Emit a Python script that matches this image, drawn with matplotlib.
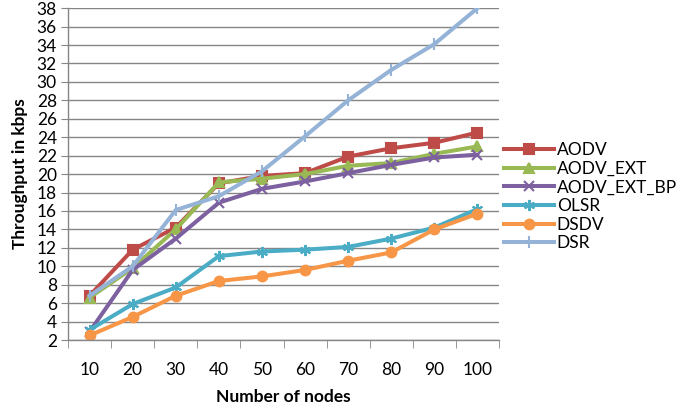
import matplotlib.pyplot as plt
import numpy as np

plt.rcParams['font.family'] = ['Lato', 'DejaVu Sans']

# Data
nodes = ['10', '20', '30', '40', '50', '60', '70', '80', '90', '100']
aodv = [6.8, 11.8, 14.2, 19.0, 19.8, 20.1, 21.9, 22.8, 23.4, 24.5]
aodv_ext = [6.6, 9.8, 14.0, 19.1, 19.5, 20.0, 20.9, 21.2, 22.2, 23.0]
aodv_ext_bp = [2.9, 9.6, 13.0, 16.9, 18.4, 19.2, 20.1, 21.0, 21.8, 22.1]
olsr = [3.1, 5.9, 7.7, 11.1, 11.6, 11.8, 12.1, 13.0, 14.2, 16.2]
dsdv = [2.5, 4.5, 6.8, 8.4, 8.9, 9.6, 10.6, 11.5, 14.0, 15.7]
dsr = [6.8, 10.0, 16.1, 17.6, 20.3, 24.1, 28.0, 31.3, 34.1, 38.0]

series = [
    ('AODV', aodv, '#BE4B48', 's', 7),
    ('AODV_EXT', aodv_ext, '#98B954', '^', 7),
    ('AODV_EXT_BP', aodv_ext_bp, '#7D60A0', 'x', 7),
    ('OLSR', olsr, '#4BACC6', (6, 2, 0), 8),
    ('DSDV', dsdv, '#F79646', 'o', 7),
    ('DSR', dsr, '#95B3D7', '|', 8),
]

fig = plt.figure(figsize=(6.85, 4.07), dpi=100)
ax = fig.add_axes([0.0993, 0.1646, 0.6292, 0.8154])

x = np.arange(len(nodes))
for name, vals, col, mk, ms in series:
    ax.plot(x, vals, color=col, linewidth=2.9, marker=mk, markersize=ms,
            markeredgecolor=col, markerfacecolor=col, markeredgewidth=1.5,
            label=name)

ax.set_xlim(-0.5, len(nodes) - 0.5)
ax.set_ylim(2, 38)
ax.set_yticks(np.arange(2, 39, 2))
ax.set_xticks(x)
ax.set_xticklabels(nodes)
ax.set_xticks(np.arange(-0.5, len(nodes), 1), minor=True)
ax.tick_params(axis='x', which='major', length=0, pad=16, labelsize=12.5)
ax.tick_params(axis='x', which='minor', length=6, color='#868686', direction='out')
ax.tick_params(axis='y', length=5, color='#868686', labelsize=12.5, pad=3)

ax.grid(axis='y', color='#868686', linewidth=1)
ax.set_axisbelow(True)
for s in ['top', 'right']:
    ax.spines[s].set_visible(False)
for s in ['left', 'bottom']:
    ax.spines[s].set_color('#868686')
    ax.spines[s].set_linewidth(1)

ax.set_xlabel('Number of nodes', fontsize=12.5, fontweight='bold', labelpad=8)
ax.set_ylabel('Throughput in kbps', fontsize=12.5, fontweight='bold', labelpad=6)

ax.legend(loc='upper left', bbox_to_anchor=(0.995, 0.617), frameon=False,
          fontsize=12.5, handlelength=2.9, handletextpad=0.15,
          labelspacing=0.15, borderaxespad=0.0)

fig.savefig('out.png', dpi=100)
